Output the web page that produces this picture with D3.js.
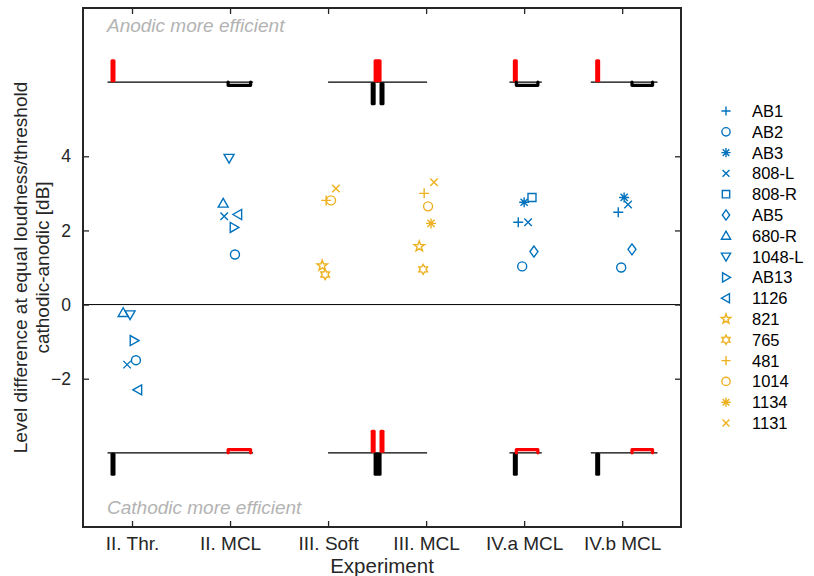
<!DOCTYPE html>
<html><head><meta charset="utf-8">
<script src="https://cdn.jsdelivr.net/npm/d3@7/dist/d3.min.js"></script>
<style>
body{margin:0;background:#fff;}
text{font-family:"Liberation Sans",Arial,Helvetica,sans-serif;}
</style></head>
<body><svg id="chart" width="814" height="576"></svg>
<script>
// ---------- data ----------
const experiments = ["II. Thr.","II. MCL","III. Soft","III. MCL","IV.a MCL","IV.b MCL"];
const subjects = ["AB1","AB2","AB3","808-L","808-R","AB5","680-R","1048-L","AB13","1126","821","765","481","1014","1134","1131"];
const subjectGroup = ["b","b","b","b","b","b","b","b","b","b","o","o","o","o","o","o"];
const markers = ["plus","circle","asterisk","x","square","diamond","triUp","triDown","triRight","triLeft","pentagram","hexagram","plus","circle","asterisk","x"];
// values per experiment, in subject order (null = not measured)
const valsIIThr   = [null,-1.50,null,-1.62,null,null,-0.22,-0.27,-0.97,-2.30,null,null,null,null,null,null];
const valsIIMCL   = [null, 1.35,null, 2.38,null,null, 2.73, 3.95, 2.08, 2.43,null,null,null,null,null,null];
const valsIIISoft = [null,null,null,null,null,null,null,null,null,null, 1.05, 0.81, 2.81, 2.81,null, 3.13];
const valsIIIMCL  = [null,null,null,null,null,null,null,null,null,null, 1.57, 0.95, 3.00, 2.65, 2.19, 3.30];
const valsIVaMCL  = [2.22, 1.03, 2.76, 2.22, 2.89, 1.43,null,null,null,null,null,null,null,null,null,null];
const valsIVbMCL  = [2.49, 1.00, 2.89, 2.70,null, 1.49,null,null,null,null,null,null,null,null,null,null];
// horizontal jitter of each point around its experiment (x units)
const jitIIThr   = [0, 0.04,0,-0.05,0,0,-0.09,-0.02,0.02,0.06,0,0,0,0,0,0];
const jitIIMCL   = [0, 0.05,0,-0.06,0,0,-0.07,-0.01,0.04,0.08,0,0,0,0,0,0];
const jitIIISoft = [0,0,0,0,0,0,0,0,0,0,-0.06,-0.03,-0.02,0.03,0,0.08];
const jitIIIMCL  = [0,0,0,0,0,0,0,0,0,0,-0.07,-0.03,-0.02,0.02,0.05,0.08];
const jitIVaMCL  = [-0.06,-0.02,0.00,0.04,0.08,0.10,0,0,0,0,0,0,0,0,0,0];
const jitIVbMCL  = [-0.04,-0.01,0.02,0.06,0,0.10,0,0,0,0,0,0,0,0,0,0];
const yTicks = [-2,0,2,4];
// pulse-shape icons (x units): baseline span, tall pulse centres/widths, long low pulse span
const pulseBase  = [[0.75,2.235],[3.0,4.01],[4.85,5.18],[5.68,6.36]];
const tallPulses = [[0.806],[3.505],[4.91],[5.75]];          // top: red up; bottom: black down
const tallWidth  = [5,8,5,5];
const splitPulses= [[],[3.46,3.55],[],[]];                    // top: black down (split); bottom: red up (split)
const lowPulse   = [[1.98,2.21],null,[4.92,5.14],[6.10,6.31]];
const topIconY = 6, botIconY = -4;

// ---------- layout ----------
const svg = d3.select("#chart");
const L=83, R=681, T=8, B=527;
const x = d3.scaleLinear().domain([0.5,6.6]).range([L,R]);
const y = d3.scaleLinear().domain([-6,8]).range([B,T]);
const blue="#0072BD", orange="#EDB120", ink="#262626";

// zero line
svg.append("line").attr("x1",L).attr("x2",R).attr("y1",y(0)).attr("y2",y(0))
  .attr("stroke","#000").attr("stroke-width",1);

// annotation texts
svg.append("text").attr("x",107).attr("y",32).attr("fill","#b3b3b3")
  .attr("font-style","italic").attr("font-size",19).text("Anodic more efficient");
svg.append("text").attr("x",107).attr("y",514).attr("fill","#b3b3b3")
  .attr("font-style","italic").attr("font-size",19).text("Cathodic more efficient");

// pulse icons
const pulseH = 0.62, lowH = 4;
function drawIcons(baseV, upColor, downColor, dir){
  const by = y(baseV);
  const h = Math.abs(y(pulseH)-y(0));
  pulseBase.forEach((b,i)=>{
    svg.append("line").attr("x1",x(b[0])).attr("x2",x(b[1])).attr("y1",by).attr("y2",by)
      .attr("stroke","#000").attr("stroke-width",1.3);
    tallPulses[i].forEach(c=>{
      const w = tallWidth[i];
      const yy = dir>0 ? by-h : by;
      svg.append("rect").attr("x",x(c)-w/2).attr("width",w).attr("y",yy).attr("height",h)
        .attr("rx",1.5).attr("fill", dir>0?upColor:downColor);
    });
    splitPulses[i].forEach(c=>{
      const yy = dir>0 ? by : by-h;
      svg.append("rect").attr("x",x(c)-2.5).attr("width",5).attr("y",yy).attr("height",h)
        .attr("rx",1.5).attr("fill", dir>0?downColor:upColor);
    });
    const lp = lowPulse[i];
    if(lp){
      const ly = dir>0 ? by+lowH-0.8 : by-lowH+0.8;
      svg.append("path").attr("d",`M${x(lp[0])},${by}L${x(lp[0])},${ly}L${x(lp[1])},${ly}L${x(lp[1])},${by}`)
        .attr("fill","none").attr("stroke", dir>0?downColor:upColor).attr("stroke-width",3.2)
        .attr("stroke-linejoin","round").attr("stroke-linecap","round");
    }
  });
}
drawIcons(topIconY,"#ff0000","#000000",1);
drawIcons(botIconY,"#ff0000","#000000",-1);

// marker shapes (pixel paths centred at 0,0)
function markerPath(type, s){
  const st = (n,ro,ri)=>{let p="";for(let k=0;k<2*n;k++){const r=k%2?ri:ro;const a=-Math.PI/2+k*Math.PI/n;p+=(k?"L":"M")+(r*Math.cos(a)).toFixed(2)+","+(r*Math.sin(a)).toFixed(2);}return p+"Z";};
  switch(type){
    case "plus": return `M${-s},0H${s}M0,${-s}V${s}`;
    case "x": {const d=s*0.75;return `M${-d},${-d}L${d},${d}M${-d},${d}L${d},${-d}`;}
    case "asterisk": {const d=s*0.72;return `M${-s},0H${s}M0,${-s}V${s}M${-d},${-d}L${d},${d}M${-d},${d}L${d},${-d}`;}
    case "circle": {const r=s*0.9;return `M${r},0A${r},${r} 0 1,1 ${-r},0A${r},${r} 0 1,1 ${r},0Z`;}
    case "square": {const d=s*0.8;return `M${-d},${-d}H${d}V${d}H${-d}Z`;}
    case "diamond": return `M0,${-s*1.1}L${s*0.8},0L0,${s*1.1}L${-s*0.8},0Z`;
    case "triUp": return `M0,${-s}L${s},${s*0.75}L${-s},${s*0.75}Z`;
    case "triDown": return `M0,${s}L${s},${-s*0.75}L${-s},${-s*0.75}Z`;
    case "triRight": return `M${s},0L${-s*0.75},${s}L${-s*0.75},${-s}Z`;
    case "triLeft": return `M${-s},0L${s*0.75},${s}L${s*0.75},${-s}Z`;
    case "pentagram": return st(5,s*1.1,s*0.45);
    case "hexagram": return st(6,s*1.0,s*0.58);
  }
}
const colorOf = i => subjectGroup[i]==="b"?blue:orange;

// data points
const valueSets = [valsIIThr,valsIIMCL,valsIIISoft,valsIIIMCL,valsIVaMCL,valsIVbMCL];
const jitterSets = [jitIIThr,jitIIMCL,jitIIISoft,jitIIIMCL,jitIVaMCL,jitIVbMCL];
const pts = [];
valueSets.forEach((vals,e)=>vals.forEach((v,i)=>{ if(v!==null) pts.push({e,i,v,j:jitterSets[e][i]}); }));
svg.append("g").selectAll("path").data(pts).join("path")
  .attr("transform",d=>`translate(${x(d.e+1+d.j)},${y(d.v)})`)
  .attr("d",d=>markerPath(markers[d.i],5))
  .attr("fill","none").attr("stroke",d=>colorOf(d.i)).attr("stroke-width",1.4);

// axes box
svg.append("rect").attr("x",L).attr("y",T).attr("width",R-L).attr("height",B-T)
  .attr("fill","none").attr("stroke",ink).attr("stroke-width",2);
const yAxis = d3.axisLeft(y).tickValues(yTicks).tickSize(-6).tickPadding(12).tickFormat(d3.format("d"));
const gy = svg.append("g").attr("transform",`translate(${L},0)`).call(yAxis);
gy.select(".domain").remove();
gy.selectAll("line").attr("stroke",ink).attr("stroke-width",1.3);
gy.selectAll("text").attr("font-size",17.5).attr("fill",ink).attr("font-family","Liberation Sans, Arial, sans-serif");
const gyR = svg.append("g").attr("transform",`translate(${R},0)`).call(d3.axisRight(y).tickValues(yTicks).tickSize(-6).tickFormat(""));
gyR.select(".domain").remove(); gyR.selectAll("line").attr("stroke",ink).attr("stroke-width",1.3);

const xAxis = d3.axisBottom(x).tickValues(d3.range(1,7)).tickSize(-6).tickPadding(10).tickFormat(d=>experiments[d-1]);
const gx = svg.append("g").attr("transform",`translate(0,${B})`).call(xAxis);
gx.select(".domain").remove();
gx.selectAll("line").attr("stroke",ink).attr("stroke-width",1.3);
gx.selectAll("text").attr("font-size",19).attr("fill",ink).attr("font-family","Liberation Sans, Arial, sans-serif");
const gxT = svg.append("g").attr("transform",`translate(0,${T})`).call(d3.axisTop(x).tickValues(d3.range(1,7)).tickSize(-6).tickFormat(""));
gxT.select(".domain").remove(); gxT.selectAll("line").attr("stroke",ink).attr("stroke-width",1.3);

// axis labels
svg.append("text").attr("x",(L+R)/2).attr("y",573).attr("text-anchor","middle")
  .attr("font-size",20.5).attr("fill",ink).text("Experiment");
const yl = svg.append("text").attr("transform",`translate(0,${(T+B)/2}) rotate(-90)`)
  .attr("text-anchor","middle").attr("font-size",19).attr("fill",ink);
yl.append("tspan").attr("x",0).attr("y",27).text("Level difference at equal loudness/threshold");
yl.append("tspan").attr("x",0).attr("y",49).text("cathodic-anodic [dB]");

// legend
const lg = svg.append("g");
subjects.forEach((s,i)=>{
  const yy = 111 + i*20.8;
  lg.append("path").attr("transform",`translate(726,${yy})`).attr("d",markerPath(markers[i],4.6))
    .attr("fill","none").attr("stroke",colorOf(i)).attr("stroke-width",1.4);
  lg.append("text").attr("x",752).attr("y",yy+6).attr("font-size",16.5).attr("fill","#000").text(s);
});
</script></body></html>
